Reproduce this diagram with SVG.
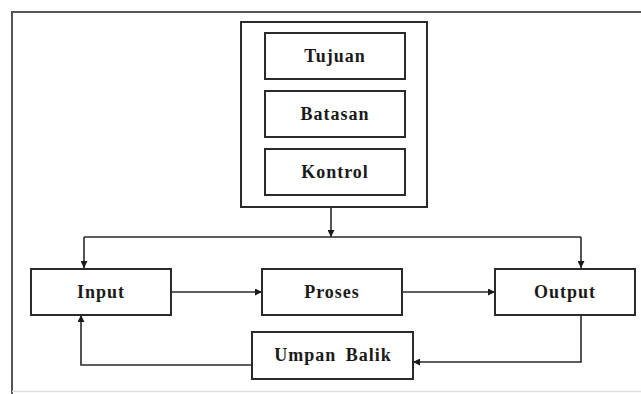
<svg xmlns="http://www.w3.org/2000/svg" width="641" height="394" viewBox="0 0 641 394">
<style>
.box{fill:#fff;stroke:#2a2a2a;stroke-width:2}
.lbl{font-family:"Liberation Serif","Times New Roman",serif;font-weight:bold;font-size:18px;fill:#1a1a1a;text-anchor:middle;letter-spacing:1px}
.con{fill:none;stroke:#2a2a2a;stroke-width:1.6}
</style>
<defs>
<marker id="ah" viewBox="0 0 10 10" refX="10" refY="5" markerWidth="7" markerHeight="7" markerUnits="userSpaceOnUse" orient="auto">
<path d="M0,0 L10,5 L0,10 z" fill="#1a1a1a"/>
</marker>
</defs>
<rect width="641" height="394" fill="#fff"/>
<g id="frame">
<path d="M12,394 V12 H641" fill="none" stroke="#555" stroke-width="2"/>
<line x1="12" y1="391.5" x2="641" y2="391.5" stroke="#ddd" stroke-width="1.5"/>
</g>
<g id="container"><rect class="box" x="241" y="22" width="186" height="185"/></g>
<g id="tujuan"><rect class="box" x="265" y="33" width="140" height="46"/><text class="lbl" x="335" y="62">Tujuan</text></g>
<g id="batasan"><rect class="box" x="265" y="91" width="140" height="46"/><text class="lbl" x="335" y="120">Batasan</text></g>
<g id="kontrol"><rect class="box" x="265" y="149" width="140" height="46"/><text class="lbl" x="335" y="178">Kontrol</text></g>
<g id="input"><rect class="box" x="31" y="269" width="140" height="46"/><text class="lbl" x="101" y="298">Input</text></g>
<g id="proses"><rect class="box" x="262" y="269" width="140" height="46"/><text class="lbl" x="332" y="298">Proses</text></g>
<g id="output"><rect class="box" x="495" y="269" width="140" height="46"/><text class="lbl" x="565" y="298">Output</text></g>
<g id="umpan-balik"><rect class="box" x="252" y="332" width="161" height="47"/><text class="lbl" x="333" y="361" word-spacing="4">Umpan Balik</text></g>
<g id="connectors">
<line class="con" x1="331" y1="207" x2="331" y2="237" marker-end="url(#ah)"/>
<line class="con" x1="84" y1="237" x2="581" y2="237"/>
<line class="con" x1="84" y1="237" x2="84" y2="268" marker-end="url(#ah)"/>
<line class="con" x1="581" y1="237" x2="581" y2="268" marker-end="url(#ah)"/>
<line class="con" x1="171" y1="292" x2="262" y2="292" marker-end="url(#ah)"/>
<line class="con" x1="402" y1="292" x2="495" y2="292" marker-end="url(#ah)"/>
<path class="con" d="M581,315 V362 H413" marker-end="url(#ah)"/>
<path class="con" d="M252,365 H81 V315" marker-end="url(#ah)"/>
</g>
</svg>
